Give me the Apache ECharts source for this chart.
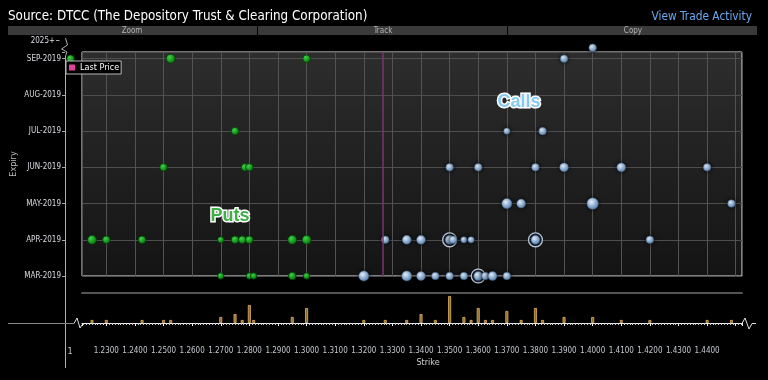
<!DOCTYPE html>
<html><head><meta charset="utf-8">
<script src="https://cdn.jsdelivr.net/npm/echarts@6/dist/echarts.min.js"></script>
<style>html,body{margin:0;padding:0;background:#000;}#c{width:768px;height:380px;}</style>
</head><body><div id="c"></div>
<script>
// Expiry categories (index 7 = the broken "2025+" row above the axis)
const expiryLabels = ['MAR-2019','APR-2019','MAY-2019','JUN-2019','JUL-2019','AUG-2019','SEP-2019','2025+'];
const lastPrice = 1.3266;

// [strike, expiry index, trades]
const putPoints = [
  [1.2175,6,2],[1.2525,6,3],[1.30,6,2],
  [1.275,4,2],
  [1.25,3,2],[1.2785,3,2],[1.28,3,2],
  [1.225,1,3],[1.23,1,2],[1.2425,1,2],[1.27,1,1],[1.275,1,2],[1.2775,1,2],[1.28,1,2],[1.295,1,3],[1.30,1,3],
  [1.27,0,1],[1.28,0,1],[1.2815,0,1],[1.295,0,2],[1.30,0,1]
];
const callPoints = [
  [1.40,7,2],
  [1.39,6,2],
  [1.37,4,1],[1.3825,4,2],
  [1.35,3,2],[1.36,3,2],[1.38,3,2],[1.39,3,3],[1.41,3,3],[1.44,3,2],
  [1.37,2,4],[1.375,2,3],[1.40,2,5],[1.4485,2,2],
  [1.3275,1,2],[1.335,1,3],[1.34,1,3],[1.35,1,3],[1.3512,1,2],[1.355,1,1],[1.3575,1,1],[1.38,1,3],[1.42,1,2],
  [1.32,0,4],[1.335,0,4],[1.34,0,3],[1.345,0,2],[1.35,0,2],[1.355,0,2],[1.36,0,3],[1.3625,0,2],[1.365,0,3],[1.37,0,2]
];
// highlighted (ringed) calls: [strike, expiry index, trades]
const ringedCalls = [[1.36,0,3],[1.35,1,3],[1.38,1,3]];

// trade volume per strike (lower panel)
const barStrikes = [1.225,1.23,1.2425,1.25,1.2525,1.27,1.275,1.2775,1.28,1.2815,1.295,1.30,1.32,1.3275,1.335,1.34,1.345,1.35,1.355,1.3575,1.36,1.3625,1.365,1.37,1.375,1.38,1.3825,1.39,1.40,1.41,1.42,1.44,1.4485];
const barCounts  = [1,1,1,1,1,2,3,1,6,1,2,5,1,1,1,3,1,9,2,1,5,1,1,4,1,5,1,2,2,1,1,1,1];

const X_MIN = 1.2215, X_MAX = 1.4522;
const rowValue = i => (i === 7 ? 6.30 : i);
const toXY = arr => arr.map(p => [p[0], rowValue(p[1]), p[2]]);
const sizeOf = v => 5 + 1.3 * v[2];

const chart = echarts.init(document.getElementById('c'), null, {renderer: 'canvas'});
const cond = "'DejaVu Sans Condensed','Liberation Sans Narrow',sans-serif";

const callColor = new echarts.graphic.RadialGradient(0.38, 0.35, 0.7, [
  {offset: 0, color: '#f2f8ff'}, {offset: 0.45, color: '#a4c4e6'}, {offset: 1, color: '#5b83b3'}]);
const putColor = new echarts.graphic.RadialGradient(0.38, 0.35, 0.7, [
  {offset: 0, color: '#42d24c'}, {offset: 0.55, color: '#179c1f'}, {offset: 1, color: '#0a6a0f'}]);

chart.setOption({
  backgroundColor: '#000',
  animation: false,
  legend: {
    data: [{name: 'Last Price', icon: 'rect'}],
    left: 66, top: 61, orient: 'horizontal',
    itemWidth: 6, itemHeight: 6, itemGap: 2,
    padding: [2, 2, 2, 3],
    backgroundColor: '#000', borderColor: '#b8b8b8', borderWidth: 1,
    textStyle: {color: '#fff', fontSize: 9, fontFamily: cond},
    selectedMode: false
  },
  grid: [
    {left: 82, top: 52, width: 660, height: 224, show: true, borderColor: '#e6e6e6', borderWidth: 1,
     outerBoundsMode: 'none', containLabel: false,
     backgroundColor: new echarts.graphic.LinearGradient(0, 0, 0, 1, [
       {offset: 0, color: '#2d2d2d'}, {offset: 1, color: '#141414'}])},
    {left: 82, top: 293, width: 660, height: 30, show: false, outerBoundsMode: 'none', containLabel: false}
  ],
  xAxis: [
    {gridIndex: 0, type: 'value', min: X_MIN, max: X_MAX, minInterval: 0.01, maxInterval: 0.01,
     axisLine: {show: false}, axisTick: {show: false}, axisLabel: {show: false},
     splitLine: {show: true, lineStyle: {color: '#535353', width: 1}}},
    {gridIndex: 1, type: 'value', min: X_MIN, max: X_MAX, minInterval: 0.01, maxInterval: 0.01, position: 'bottom',
     axisLine: {show: true, onZero: false, lineStyle: {color: '#f0f0f0', width: 1}},
     axisTick: {show: true, length: 3, lineStyle: {color: '#f0f0f0'}},
     minorTick: {show: true, splitNumber: 10, length: 2, lineStyle: {color: '#cfcfcf'}},
     splitLine: {show: false},
     axisLabel: {show: true, interval: 0, margin: 24, color: '#c4c8d0', fontSize: 8, fontFamily: cond,
       formatter: v => (v < 1.225 || v > 1.445) ? '' : v.toFixed(4)}},
    {gridIndex: 1, type: 'value', min: X_MIN, max: X_MAX, position: 'top',
     axisLine: {show: true, onZero: false, lineStyle: {color: '#555', width: 2}},
     axisTick: {show: false}, axisLabel: {show: false}, splitLine: {show: false}}
  ],
  yAxis: [
    {gridIndex: 0, type: 'value', min: 0, max: 6.185, minInterval: 1, maxInterval: 1, offset: 17,
     name: 'Expiry', nameLocation: 'middle', nameGap: 47, nameMoveOverlap: false,
     nameTextStyle: {color: '#bdbdbd', fontSize: 9, fontFamily: cond},
     axisLine: {show: false},
     axisTick: {show: true, length: 3, lineStyle: {color: '#aaa'}},
     axisLabel: {show: true, margin: 4, color: '#dcdce4', fontSize: 8, fontFamily: cond,
       formatter: v => (Math.abs(v - Math.round(v)) < 1e-6 && v <= 6) ? expiryLabels[Math.round(v)] : ''},
     splitLine: {show: true, lineStyle: {color: '#4e4e4e', width: 1}}},
    {gridIndex: 1, type: 'value', min: 0, max: 10, show: false}
  ],
  series: [
    {name: 'Last Price', type: 'line', xAxisIndex: 0, yAxisIndex: 0, data: [],
     itemStyle: {color: '#e0409e'},
     markLine: {silent: true, symbol: 'none', precision: 4, label: {show: false},
       lineStyle: {color: '#7c3570', width: 1.5, type: 'solid'},
       data: [{xAxis: lastPrice}]}},
    {name: 'Puts', type: 'scatter', xAxisIndex: 0, yAxisIndex: 0, clip: false, z: 3,
     data: toXY(putPoints), symbolSize: sizeOf,
     itemStyle: {color: putColor, borderColor: '#053a08', borderWidth: 0.8, opacity: 1}},
    {name: 'Rings', type: 'scatter', xAxisIndex: 0, yAxisIndex: 0, clip: false, z: 3,
     data: toXY(ringedCalls), symbolSize: v => sizeOf(v) + 5,
     itemStyle: {color: '#1b2330', borderColor: '#cfe0f2', borderWidth: 1.3, opacity: 1}},
    {name: 'Calls', type: 'scatter', xAxisIndex: 0, yAxisIndex: 0, clip: false, z: 4,
     data: toXY(callPoints), symbolSize: sizeOf,
     itemStyle: {color: callColor, borderColor: '#3d5a7e', borderWidth: 0.5, opacity: 1,
       shadowColor: 'rgba(0,0,0,0.85)', shadowBlur: 4}},
    {name: 'Volume', type: 'bar', xAxisIndex: 1, yAxisIndex: 1, barWidth: 3,
     data: barStrikes.map((s, i) => [s, barCounts[i]]),
     itemStyle: {color: '#8a6a2e', borderColor: '#e2b45e', borderWidth: 0.8}}
  ],
  graphic: [
    {type: 'text', x: 8, y: 17, style: {text: 'Source: DTCC (The Depository Trust & Clearing Corporation)',
      fill: '#ffffff', fontSize: 13.3, fontFamily: cond, verticalAlign: 'middle'}},
    {type: 'text', x: 752, y: 17, style: {text: 'View Trade Activity',
      fill: '#6aa9ef', fontSize: 11.8, fontFamily: cond, align: 'right', verticalAlign: 'middle'}},
    {type: 'rect', shape: {x: 8, y: 26, width: 249, height: 9}, style: {fill: '#3a3a3a'}},
    {type: 'rect', shape: {x: 258, y: 26, width: 249, height: 9}, style: {fill: '#3a3a3a'}},
    {type: 'rect', shape: {x: 508, y: 26, width: 249, height: 9}, style: {fill: '#3a3a3a'}},
    {type: 'text', x: 132, y: 30.5, style: {text: 'Zoom', fill: '#b4b4b4', fontSize: 8, fontFamily: cond, align: 'center', verticalAlign: 'middle'}},
    {type: 'text', x: 383, y: 30.5, style: {text: 'Track', fill: '#b4b4b4', fontSize: 8, fontFamily: cond, align: 'center', verticalAlign: 'middle'}},
    {type: 'text', x: 633, y: 30.5, style: {text: 'Copy', fill: '#b4b4b4', fontSize: 8, fontFamily: cond, align: 'center', verticalAlign: 'middle'}},
    // y axis line with break
    {type: 'polyline', shape: {points: [[65.5, 38], [67.5, 45], [61.5, 49], [67, 52], [65.5, 56], [65.5, 368]]},
     style: {stroke: '#b0b0b0', lineWidth: 1, fill: null}},
    {type: 'line', shape: {x1: 56, y1: 40.5, x2: 59.5, y2: 40.5}, style: {stroke: '#aaa', lineWidth: 1}},
    {type: 'text', x: 55, y: 40.5, style: {text: '2025+', fill: '#dcdce4', fontSize: 8, fontFamily: cond, align: 'right', verticalAlign: 'middle'}},
    // baseline break marks
    {type: 'polyline', shape: {points: [[8, 323.5], [74, 323.5]]}, style: {stroke: '#8a8a8a', lineWidth: 1, fill: null}},
    {type: 'polyline', shape: {points: [[74, 323.5], [77, 318], [80, 328], [83, 323.5]]}, style: {stroke: '#e0e0e0', lineWidth: 1, fill: null}},
    {type: 'polyline', shape: {points: [[742, 323.5], [745, 318], [749, 329], [752, 323.5], [756, 323.5]]}, style: {stroke: '#e0e0e0', lineWidth: 1, fill: null}},
    {type: 'text', x: 70, y: 352, style: {text: '1', fill: '#c8c8c8', fontSize: 9, fontFamily: cond, align: 'center', verticalAlign: 'middle'}},
    {type: 'text', x: 428, y: 363, style: {text: 'Strike', fill: '#d0d0d0', fontSize: 9, fontFamily: cond, align: 'center', verticalAlign: 'middle'}},
    // annotations
    {type: 'text', x: 519, y: 102, z: 10, style: {text: 'Calls', fill: '#88c9ef', stroke: '#ffffff', lineWidth: 3,
      fontSize: 18, fontWeight: 'bold', fontFamily: 'Liberation Sans', align: 'center', verticalAlign: 'middle',
      shadowBlur: 3, shadowColor: 'rgba(0,0,0,0.7)'}},
    {type: 'text', x: 230, y: 216, z: 10, style: {text: 'Puts', fill: '#3fae46', stroke: '#ffffff', lineWidth: 3,
      fontSize: 18, fontWeight: 'bold', fontFamily: 'Liberation Sans', align: 'center', verticalAlign: 'middle',
      shadowBlur: 3, shadowColor: 'rgba(0,0,0,0.7)'}}
  ]
});
</script>
</body></html>
